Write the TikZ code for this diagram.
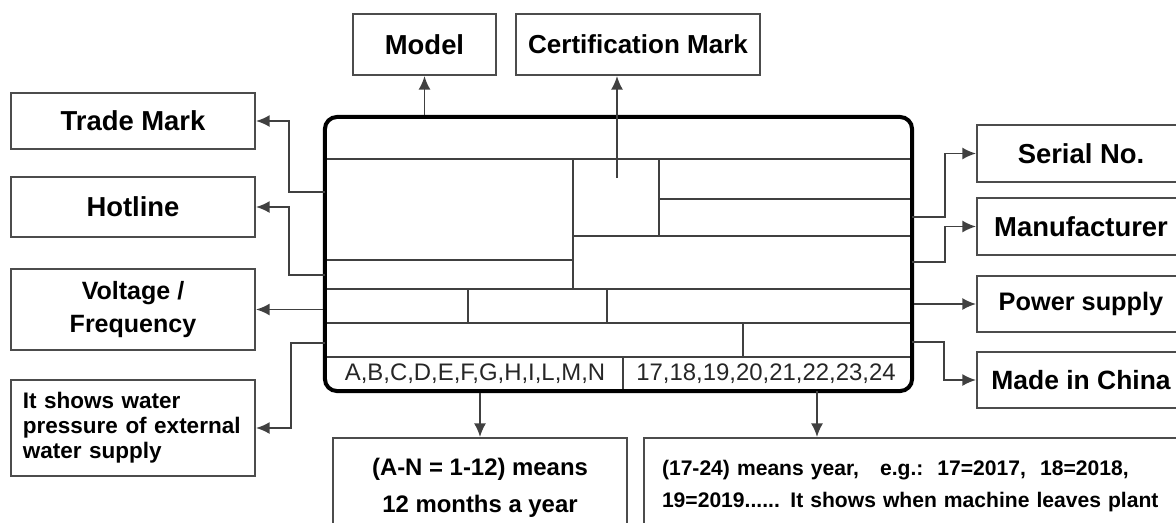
\documentclass[tikz,border=0pt]{standalone}
\usepackage{fontspec}
\setmainfont{Liberation Sans}
\usetikzlibrary{arrows.meta}

\begin{document}
\begin{tikzpicture}[x=0.025cm, y=-0.025cm]
 \tikzstyle{cadre}=[draw=black!70, line width=0.05cm, inner sep=0pt, align=center, font=\bfseries\fontsize{19.5}{23}\selectfont]
 \tikzstyle{fleche}=[-{Latex[length=0.34cm,width=0.3cm]}, draw=black!75, line width=0.045cm]
 \tikzstyle{trait}=[draw=black!75, line width=0.05cm]
 \tikzstyle{plaque}=[draw=black, rounded corners=0.3cm, line width=0.1cm, minimum width=14.675cm, minimum height=6.85cm, inner sep=0pt]
 \tikzstyle{code}=[font=\fontsize{17}{20}\selectfont, text=black!85]
 %
 \useasboundingbox (0,0) rectangle (1176,522);
 %
 \draw[trait] (325,159) -- (912,159);
 \draw[trait] (573,159) -- (573,289);
 \draw[trait] (325,260) -- (573,260);
 \draw[trait] (659,159) -- (659,236);
 \draw[trait] (659,199) -- (912,199);
 \draw[trait] (573,236) -- (912,236);
 \draw[trait] (325,289) -- (912,289);
 \draw[trait] (468,289) -- (468,323);
 \draw[trait] (607,289) -- (607,323);
 \draw[trait] (325,323) -- (912,323);
 \draw[trait] (743,323) -- (743,357);
 \draw[trait] (325,357) -- (912,357);
 \draw[trait] (623,357) -- (623,391);
 \node[plaque] (plate) at (618.5,254) {};
 \node[code] (mois) at (475,374) {A,B,C,D,E,F,G,H,I,L,M,N};
 \node[code] (annee) at (766,374) {17,18,19,20,21,22,23,24};
 %
 \node[cadre, minimum width=3.575cm, minimum height=1.525cm] (model) at (424.5,44.5) {Model};
 \node[cadre, minimum width=6.1cm, minimum height=1.525cm, font=\bfseries\fontsize{18.5}{22}\selectfont] (cert) at (638,44.5) {Certification Mark};
 %
 \node[cadre, minimum width=6.1cm, minimum height=1.4cm] (trade) at (133,121) {Trade Mark};
 \node[cadre, minimum width=6.1cm, minimum height=1.5cm] (hotline) at (133,207) {Hotline};
 \node[cadre, minimum width=6.1cm, minimum height=2.025cm, font=\bfseries\fontsize{17.8}{23.5}\selectfont] (volt) at (133,309.5) {Voltage /\\Frequency};
 \node[cadre, minimum width=6.1cm, minimum height=2.375cm, text width=5.5cm, inner xsep=0.3cm, align=left, font=\bfseries\fontsize{16}{17.8}\selectfont] (water) at (133,428) {It shows water\\pressure of external\\water supply};
 %
 \node[cadre, minimum width=5.2cm, minimum height=1.425cm] (serial) at (1081,153.5) {Serial No.};
 \node[cadre, minimum width=5.2cm, minimum height=1.425cm] (manuf) at (1081,226.5) {Manufacturer};
 \node[cadre, minimum width=5.2cm, minimum height=1.4cm, font=\bfseries\fontsize{18}{22}\selectfont] (power) at (1081,304) {Power supply};
 \node[cadre, minimum width=5.2cm, minimum height=1.4cm, font=\bfseries\fontsize{18.8}{22}\selectfont] (china) at (1081,380) {Made in China};
 %
 \node[cadre, minimum width=7.35cm, minimum height=2.475cm, font=\bfseries\fontsize{17}{26.5}\selectfont] (bas1) at (480,487.5) {(A-N = 1-12) means\\12 months a year};
 \node[cadre, anchor=north west, minimum height=2.4cm, text width=13cm, inner xsep=0.45cm, align=left, font=\bfseries\fontsize{15}{22.5}\selectfont] (bas2) at (643,437) {(17-24) means year,\ \ \ e.g.:\ \ 17=2017,\ \ 18=2018,\\19=2019...... It shows when machine leaves plant};
 %%
 \coordinate (pCM) at (617,178);
 \coordinate (pTM) at (325,192);
 \coordinate (pHL) at (325,275);
 \coordinate (pWP) at (325,343);
 \coordinate (pSN) at (912,217);
 \coordinate (pMF) at (912,262);
 \coordinate (pMC) at (912,342);
 \coordinate (pAN) at (817,391);
 %%
 \draw[fleche] (model.south |- plate.north) -- (model.south);
 \draw[fleche] (pCM) -- (pCM |- cert.south);
 \draw[fleche] (pTM) -- ++(-36,0) |- (trade.east);
 \draw[fleche] (pHL) -- ++(-36,0) |- (hotline.east);
 \draw[fleche] (plate.west |- volt.east) -- (volt.east);
 \draw[fleche] (pWP) -- ++(-34,0) |- (water.east);
 \draw[fleche] (pSN) -- ++(33,0) |- (serial.west);
 \draw[fleche] (pMF) -- ++(33,0) |- (manuf.west);
 \draw[fleche] (plate.east |- power.west) -- (power.west);
 \draw[fleche] (pMC) -- ++(32,0) |- (china.west);
 \draw[fleche] (plate.south -| bas1.north) -- (bas1.north);
 \draw[fleche] (pAN) -- (pAN |- bas2.north);
\end{tikzpicture}
\end{document}
